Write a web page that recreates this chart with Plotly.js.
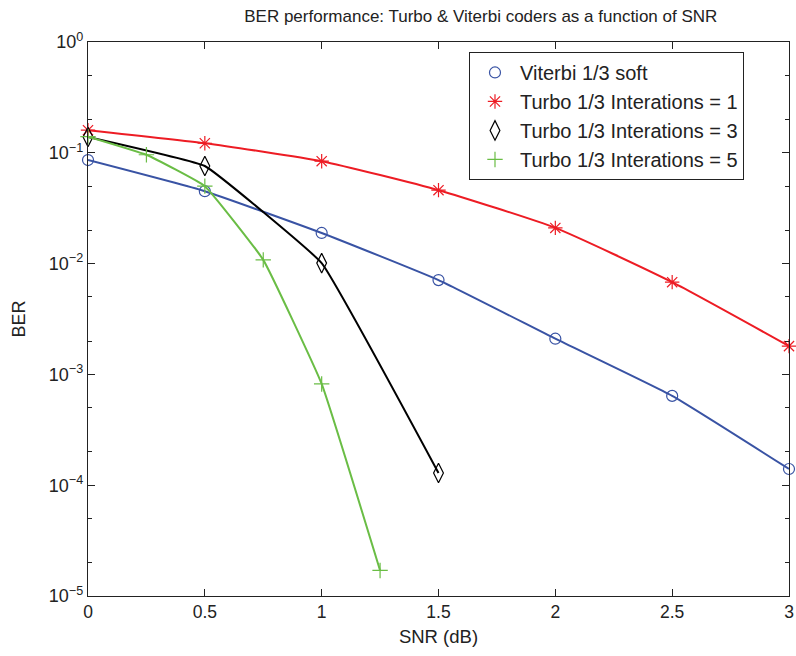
<!DOCTYPE html>
<html>
<head>
<meta charset="utf-8">
<script src="https://cdn.plot.ly/plotly-3.0.1.min.js"></script>
<style>html,body{margin:0;padding:0;background:#fff;}#chart{width:796px;height:656px;}</style>
</head>
<body>
<div id="chart"></div>
<script>
var seriesNames = ["Viterbi 1/3 soft", "Turbo 1/3 Interations = 1", "Turbo 1/3 Interations = 3", "Turbo 1/3 Interations = 5"];

var viterbiX = [0, 0.5, 1, 1.5, 2, 2.5, 3];
var viterbiY = [0.086, 0.045, 0.0189, 0.0071, 0.0021, 0.00064, 0.00014];

var turbo1X = [0, 0.5, 1, 1.5, 2, 2.5, 3];
var turbo1Y = [0.16, 0.122, 0.084, 0.046, 0.021, 0.0068, 0.0018];

var turbo3X = [0, 0.5, 1, 1.5];
var turbo3Y = [0.139, 0.076, 0.0101, 0.000129];

var turbo5X = [0, 0.25, 0.5, 0.75, 1, 1.25];
var turbo5Y = [0.14, 0.096, 0.05, 0.0108, 0.00082, 0.000017];

var xTicks = [0, 0.5, 1, 1.5, 2, 2.5, 3];
var xTickText = ["0", "0.5", "1", "1.5", "2", "2.5", "3"];
var yTicks = [1, 0.1, 0.01, 0.001, 0.0001, 0.00001];
var yTickText = ["10<sup>0</sup>", "10<sup>\u22121</sup>", "10<sup>\u22122</sup>", "10<sup>\u22123</sup>", "10<sup>\u22124</sup>", "10<sup>\u22125</sup>"];

var colors = ["#3953a4", "#ed1c24", "#000000", "#6abd45"];
var symbols = ["circle-open", "asterisk-open", "diamond-tall-open", "cross-thin-open"];
var sizes = [11, 12, 14, 11];
var smooth = [0.4, 0.5, 0.25, 0.3];

var xs = [viterbiX, turbo1X, turbo3X, turbo5X];
var ys = [viterbiY, turbo1Y, turbo3Y, turbo5Y];

var traces = [];
for (var i = 0; i < 4; i++) {
  traces.push({
    x: xs[i], y: ys[i], type: "scatter", mode: "lines+markers",
    line: {color: colors[i], width: 2, shape: "spline", smoothing: smooth[i]},
    marker: {symbol: symbols[i], size: sizes[i], color: colors[i], line: {color: colors[i], width: 1.2}},
    showlegend: false, cliponaxis: false, hoverinfo: "skip"
  });
}
for (var j = 0; j < 4; j++) {
  traces.push({
    x: [null], y: [null], type: "scatter", mode: "markers", name: seriesNames[j],
    marker: {symbol: symbols[j], size: sizes[j], color: colors[j], line: {color: colors[j], width: 1.2}},
    showlegend: true
  });
}

var fam = "Liberation Sans, Arial, sans-serif";
var ink = "#222";

var layout = {
  width: 796, height: 656,
  margin: {l: 88, r: 7, t: 42, b: 60},
  paper_bgcolor: "#fff", plot_bgcolor: "#fff",
  font: {family: fam, color: ink, size: 17},
  title: {text: "BER performance: Turbo &amp; Viterbi coders as a function of SNR", font: {family: fam, size: 17, color: ink}, xref: "container", x: 0.604, xanchor: "center", y: 0.985, yanchor: "top"},
  xaxis: {
    range: [0, 3], tickvals: xTicks, ticktext: xTickText,
    ticks: "inside", ticklen: 7, tickcolor: ink, tickwidth: 1,
    showline: true, linecolor: ink, linewidth: 1.2, mirror: "ticks",
    showgrid: false, zeroline: false,
    tickfont: {family: fam, size: 17.5, color: ink},
    title: {text: "SNR (dB)", font: {family: fam, size: 18.5, color: ink}, standoff: 8}
  },
  yaxis: {
    type: "log", range: [-5, 0], tickvals: yTicks, ticktext: yTickText,
    ticks: "inside", ticklen: 7, tickcolor: ink, tickwidth: 1,
    showline: true, linecolor: ink, linewidth: 1.2, mirror: "ticks",
    showgrid: false, zeroline: false,
    minor: {ticks: "inside", ticklen: 4, tickcolor: ink, showgrid: false},
    tickfont: {family: fam, size: 18, color: ink},
    title: {text: "BER", font: {family: fam, size: 18, color: ink}, standoff: 18}
  },
  legend: {
    x: 0.5435, y: 0.982, xanchor: "left", yanchor: "top",
    bordercolor: ink, borderwidth: 1, bgcolor: "#fff",
    font: {family: fam, size: 20, color: ink},
    tracegroupgap: 0, itemwidth: 40
  },
  showlegend: true
};

Plotly.newPlot("chart", traces, layout, {staticPlot: true, displayModeBar: false});
</script>
</body>
</html>
